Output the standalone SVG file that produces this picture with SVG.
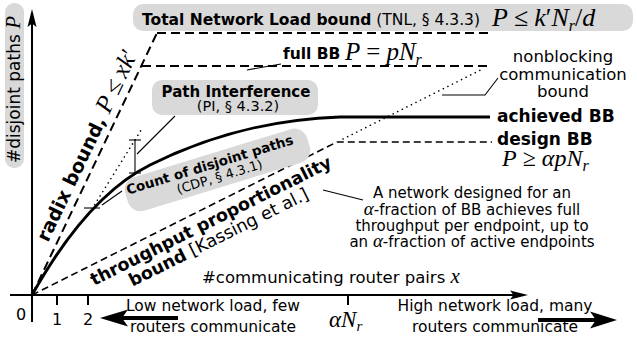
<svg xmlns="http://www.w3.org/2000/svg" width="637" height="339" viewBox="0 0 637 339">
<style>
text{font-family:"DejaVu Sans",sans-serif;fill:#000}
.b{font-weight:bold}
.n{font-weight:normal}
.m{font-family:"Liberation Serif",serif;font-style:italic;font-weight:normal}
.mr{font-family:"Liberation Serif",serif;font-style:normal;font-weight:normal}
.box{fill:#d9d9d9}
.ax{stroke:#000;stroke-width:2;fill:none}
.dash{stroke:#000;stroke-width:2;fill:none;stroke-dasharray:9 5}
.dash2{stroke:#000;stroke-width:1.6;fill:none;stroke-dasharray:7 4}
.dot{stroke:#000;stroke-width:1.6;fill:none;stroke-dasharray:0.1 5;stroke-linecap:round}
.thin{stroke:#000;stroke-width:1.1;fill:none}
.head{fill:#000}
</style>
<g id="connectors">
  <line class="ax" x1="32" y1="322" x2="32" y2="18"/>
  <path class="head" d="M32,9 L36.5,27 L32,23.5 L27.5,27 Z"/>
  <line class="ax" x1="10" y1="295" x2="520" y2="295"/>
  <path class="head" d="M528,295 L510,299.5 L513.5,295 L510,290.5 Z"/>
  <line class="ax" x1="57" y1="295" x2="57" y2="305"/>
  <line class="ax" x1="88" y1="295" x2="88" y2="305"/>
  <line class="ax" x1="348" y1="295" x2="348" y2="305"/>
  <line x1="120" y1="318" x2="178" y2="318" stroke="#000" stroke-width="4"/>
  <path class="head" d="M100,318 L128,309.5 L122,318 L128,326.5 Z"/>
  <line x1="538" y1="320" x2="598" y2="320" stroke="#000" stroke-width="4"/>
  <path class="head" d="M617,320 L590,311.5 L596,320 L590,328.5 Z"/>
  <line class="dash" x1="32" y1="295" x2="157" y2="33"/>
  <line class="dash" x1="157" y1="33" x2="492" y2="33"/>
  <line class="dash" x1="142" y1="66" x2="492" y2="66"/>
  <path class="dash2" d="M32,295 L337,142 L492,142"/>
  <line class="dot" x1="343" y1="139" x2="482" y2="69.3"/>
  <line class="dot" x1="92" y1="209" x2="143" y2="127"/>
  <path d="M32,295 C60,245 100,190 150,165 C200,140 260,120 340,117 L490,117" fill="none" stroke="#000" stroke-width="3"/>
  <line class="thin" x1="135" y1="140" x2="135" y2="173" stroke-width="1.5"/>
  <line class="thin" x1="129" y1="140" x2="141" y2="140" stroke-width="1.5"/>
  <line class="thin" x1="129" y1="173" x2="141" y2="173" stroke-width="1.5"/>
  <line class="thin" x1="84" y1="208" x2="100" y2="208" stroke-width="1.5"/>
  <line class="thin" x1="137" y1="154" x2="175" y2="116"/>
  <line class="thin" x1="102" y1="205" x2="122" y2="191"/>
  <line class="thin" x1="247" y1="70" x2="281" y2="64"/>
  <polyline class="thin" points="442,95 485,95 498,78"/>
  <line class="thin" x1="323" y1="190" x2="363" y2="200"/>
</g>
<g id="y-label" transform="translate(20,167) rotate(-90)">
  <rect class="box" x="-1" y="-15" width="165" height="19" rx="9"/>
  <text x="4" y="0" font-size="17">#disjoint paths <tspan class="m" font-size="21">P</tspan></text>
</g>
<g id="tnl">
  <rect class="box" x="133" y="4" width="500" height="27" rx="10"/>
  <text x="142" y="25" font-size="15.5"><tspan class="b">Total Network Load bound</tspan> (TNL, § 4.3.3)</text>
  <text x="492" y="26" font-size="26"><tspan class="m">P</tspan><tspan class="mr" dx="6">≤</tspan><tspan class="m" dx="6">k</tspan><tspan class="mr">′</tspan><tspan class="m">N</tspan><tspan class="m" font-size="16" dy="5">r</tspan><tspan class="mr" dy="-5">/</tspan><tspan class="m">d</tspan></text>
</g>
<g id="full-bb">
  <text x="283" y="59" font-size="15.5"><tspan class="b">full BB</tspan></text>
  <text x="345" y="60" font-size="25"><tspan class="m">P</tspan><tspan class="mr" dx="6">=</tspan><tspan class="m" dx="6">pN</tspan><tspan class="m" font-size="16" dy="5">r</tspan></text>
</g>
<g id="nonblocking">
  <text x="563" y="62" font-size="16.5" text-anchor="middle">nonblocking</text>
  <text x="563" y="80" font-size="16.5" text-anchor="middle">communication</text>
  <text x="563" y="97" font-size="16.5" text-anchor="middle">bound</text>
</g>
<g id="achieved">
  <text class="b" x="497" y="122" font-size="17">achieved BB</text>
</g>
<g id="design">
  <text class="b" x="497" y="145" font-size="17">design BB</text>
  <text x="502" y="166" font-size="24"><tspan class="m">P</tspan><tspan class="mr" dx="6">≥</tspan><tspan class="m" dx="6">αpN</tspan><tspan class="m" font-size="16" dy="5">r</tspan></text>
</g>
<g id="pi">
  <rect class="box" x="152" y="80" width="166" height="35" rx="10"/>
  <text class="b" x="236" y="97" font-size="15" text-anchor="middle">Path Interference</text>
  <text x="238" y="111" font-size="14.5" text-anchor="middle">(PI, § 4.3.2)</text>
</g>
<g id="cdp" transform="translate(212,169) rotate(-17)">
  <rect class="box" x="-90" y="-15" width="190" height="35" rx="13"/>
  <text class="b" x="-1" y="0" font-size="13.5" text-anchor="middle">Count of disjoint paths</text>
  <text x="5" y="14" font-size="13" text-anchor="middle">(CDP, § 4.3.1)</text>
</g>
<g id="radix" transform="translate(48,243) rotate(-64.5)">
  <text class="b" x="0" y="0" font-size="19">radix bound, <tspan class="m" font-size="25">P</tspan><tspan class="mr" font-size="25" dx="5">≤</tspan><tspan class="m" font-size="25" dx="5">xk</tspan><tspan class="mr" font-size="25">′</tspan></text>
</g>
<g id="throughput" transform="translate(94,286) rotate(-26.6)">
  <text class="b" x="0" y="0" font-size="17.5">throughput proportionality</text>
  <text x="34" y="18" font-size="17.5"><tspan class="b">bound</tspan> [Kassing et al.]</text>
</g>
<g id="note">
  <text x="472" y="198" font-size="15" text-anchor="middle">A network designed for an</text>
  <text x="472" y="215" font-size="15" text-anchor="middle"><tspan class="m" font-size="19">α</tspan>-fraction of BB achieves full</text>
  <text x="472" y="231" font-size="15" text-anchor="middle">throughput per endpoint, up to</text>
  <text x="472" y="247" font-size="15" text-anchor="middle">an <tspan class="m" font-size="19">α</tspan>-fraction of active endpoints</text>
</g>
<g id="x-label">
  <text x="202" y="283" font-size="16.5">#communicating router pairs <tspan class="m" font-size="21">x</tspan></text>
</g>
<g id="ticks">
  <text x="21" y="320" font-size="16" text-anchor="middle">0</text>
  <text x="57" y="325" font-size="16" text-anchor="middle">1</text>
  <text x="88" y="325" font-size="16" text-anchor="middle">2</text>
  <text x="329" y="327" font-size="23"><tspan class="m">αN</tspan><tspan class="m" font-size="15" dy="4">r</tspan></text>
</g>
<g id="low-load">
  <text x="213" y="311" font-size="15.5" text-anchor="middle">Low network load, few</text>
  <text x="213" y="332" font-size="15.5" text-anchor="middle">routers communicate</text>
</g>
<g id="high-load">
  <text x="495" y="311" font-size="15.5" text-anchor="middle">High network load, many</text>
  <text x="495" y="332" font-size="15.5" text-anchor="middle">routers communicate</text>
</g>
</svg>
